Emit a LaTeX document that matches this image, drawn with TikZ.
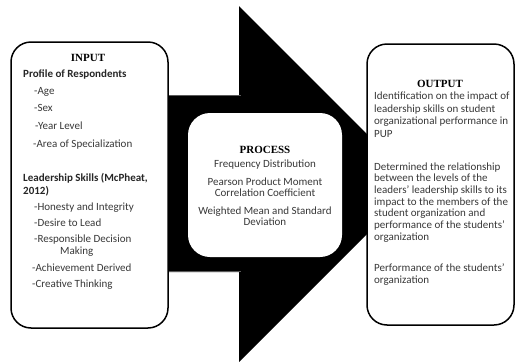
\documentclass[tikz,border=0pt]{standalone}
\usepackage{fontspec}
\setmainfont{Carlito}
\newfontfamily\headfont{Liberation Serif}
\begin{document}
\begin{tikzpicture}[x=1pt,y=-1pt,
  panel/.style={draw=black, line width=1.5pt, fill=white, rounded corners=20pt, inner sep=0pt},
  inner/.style={fill=white, rounded corners=22pt, inner sep=0pt},
  head/.style={font=\headfont\bfseries\fontsize{11}{12}\selectfont, inner sep=0pt, anchor=base},
  body/.style={font=\fontsize{11}{12}\selectfont, text=black!78, inner sep=0pt, anchor=base west},
  bodyc/.style={body, anchor=base},
  bodyb/.style={body, font=\bfseries\fontsize{11}{12}\selectfont, text=black!85},
]
\useasboundingbox (0,0) rectangle (515,362);

% big black arrow
\fill[black] (150,95) -- (239,95) -- (239,6) -- (417,184) -- (239,362)
  -- (239,272) -- (150,272) -- cycle;
\draw[black!65, line width=1.5pt] (160,95.5) -- (241,95.5);
\draw[black!65, line width=1.5pt] (160,271.5) -- (241,271.5);

% three panels
\node[panel, minimum width=157pt, minimum height=286pt] (inbox) at (89.5,185) {};
\node[inner, minimum width=154pt, minimum height=144pt] (procbox) at (265,185) {};
\node[panel, minimum width=147pt, minimum height=281pt] (outbox) at (440.5,184.5) {};

% input panel
\node[head] (inT) at (88,61) {INPUT};
\node[bodyb] (in1) at (23,77) {Profile of Respondents};
\node[body] (in2) at (34,94) {-Age};
\node[body] (in3) at (34,111) {-Sex};
\node[body] (in4) at (35,129) {-Year Level};
\node[body] (in5) at (33,147) {-Area of Specialization};
\node[bodyb] (in6) at (23,181) {Leadership Skills (McPheat,};
\node[bodyb] (in7) at (23,194) {2012)};
\node[body] (in8) at (34,210) {-Honesty and Integrity};
\node[body] (in9) at (34,226) {-Desire to Lead};
\node[body] (in10) at (34,242) {-Responsible Decision};
\node[body] (in11) at (60,254) {Making};
\node[body] (in12) at (32,271) {-Achievement Derived};
\node[body] (in13) at (32,287) {-Creative Thinking};

% process panel
\node[head] (prT) at (265,153) {PROCESS};
\node[bodyc] (pr1) at (265,167.5) {Frequency Distribution};
\node[bodyc] (pr2) at (265,185) {Pearson Product Moment};
\node[bodyc] (pr3) at (265,196.5) {Correlation Coefficient};
\node[bodyc] (pr4) at (265,214) {Weighted Mean and Standard};
\node[bodyc] (pr5) at (265,225.5) {Deviation};

% output panel
\node[head] (ouT) at (440,87) {OUTPUT};
\node[body] (ou1) at (374,99.5) {Identification on the impact of};
\node[body] (ou2) at (374,112) {leadership skills on student};
\node[body] (ou3) at (374,124.5) {organizational performance in};
\node[body] (ou4) at (374,137) {PUP};
\node[body] (ou5) at (374,170) {Determined the relationship};
\node[body] (ou6) at (374,181.7) {between the levels of the};
\node[body] (ou7) at (374,193.4) {leaders' leadership skills to its};
\node[body] (ou8) at (374,205.1) {impact to the members of the};
\node[body] (ou9) at (374,216.8) {student organization and};
\node[body] (ou10) at (374,228.5) {performance of the students'};
\node[body] (ou11) at (374,240.2) {organization};
\node[body] (ou12) at (374,271.5) {Performance of the students'};
\node[body] (ou13) at (374,283.2) {organization};
\end{tikzpicture}
\end{document}
